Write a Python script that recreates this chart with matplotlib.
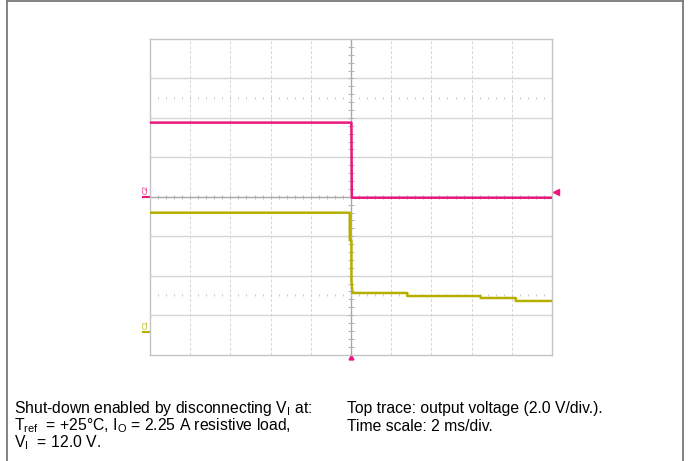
import numpy as np
import matplotlib.pyplot as plt
from matplotlib.lines import Line2D

plt.rcParams['font.family'] = ['Liberation Sans', 'DejaVu Sans']
plt.rcParams['mathtext.fontset'] = 'custom'
plt.rcParams['mathtext.rm'] = 'Liberation Sans'
plt.rcParams['mathtext.it'] = 'Liberation Sans'

# time axis in ms (2 ms/div, trigger at centre)
t_out = [-10.0, 0.02, 0.04, 10.0]
v_out = [3.76, 3.76, -0.05, -0.05]          # output voltage, 2 V/div

t_in = [-10.0, -0.06, -0.06, 0.02, 0.02, 0.07, 2.8, 2.8, 6.45, 6.45, 8.2, 8.2, 10.0]
v_in = [12.1, 12.1, 9.3, 9.3, 5.3, 3.96, 3.96, 3.65, 3.65, 3.45, 3.45, 3.15, 3.15]  # input, 4 V/div

out_scale = 2.0
in_scale = 4.0
in_offset = -3.43   # divisions, ground of input channel

pink = '#ea187d'
yellow = '#b5b000'
grid_c = '#d6d6d6'

fig = plt.figure(figsize=(6.9, 4.61), dpi=100)

# outer frame (open at the bottom)
for xs, ys in [([0.0105, 0.0105], [0.0, 0.997]), ([0.0105, 0.99], [0.997, 0.997]), ([0.99, 0.99], [0.997, 0.0])]:
    fig.add_artist(Line2D(xs, ys, color='#7a7a7a', lw=1.3))

ax = fig.add_axes([150 / 690, 1 - 354.5 / 461, 402 / 690, 315.5 / 461])
ax.set_xlim(-10, 10)
ax.set_ylim(-4, 4)
ax.set_xticks([])
ax.set_yticks([])
for s in ax.spines.values():
    s.set_color('#c4c4c4')
    s.set_linewidth(1.0)

# graticule
for y in range(-3, 4):
    if y != 0:
        ax.axhline(y, color=grid_c, lw=1.0, zorder=1)
for x in range(-8, 9, 2):
    if x != 0:
        ax.axvline(x, color=grid_c, lw=0.7, ls=(0, (3, 2)), zorder=1)
ax.axhline(0, color='#a8a8a8', lw=1.0, zorder=1)
ax.axvline(0, color='#a8a8a8', lw=1.0, zorder=1)
xt = np.arange(-10, 10.01, 0.4)
yt = np.arange(-4, 4.01, 0.2)
ax.plot(xt, np.zeros_like(xt), ls='none', marker='|', ms=3.5, color='#b4b4b4', mew=0.7, zorder=1)
ax.plot(np.zeros_like(yt), yt, ls='none', marker='_', ms=4.5, color='#b4b4b4', mew=0.7, zorder=1)
for y in (2.5, -2.5):
    ax.plot(xt, np.full_like(xt, y), ls='none', marker='|', ms=1.5, color='#c8c8c8', mew=0.7, zorder=1)

# traces
ax.plot(t_out, np.array(v_out) / out_scale, color=pink, lw=1.8, zorder=3)
ax.plot(t_in, np.array(v_in) / in_scale + in_offset, color=yellow, lw=1.8, zorder=3)

# channel markers
ax.plot([-10.35, -10.0], [0, 0], color=pink, lw=1.5, clip_on=False)
ax.text(-10.2, 0.08, 'C2', color=pink, fontsize=5, rotation=90, ha='center', va='bottom', clip_on=False)
ax.plot([-10.35, -10.0], [in_offset, in_offset], color=yellow, lw=1.5, clip_on=False)
ax.text(-10.2, in_offset + 0.08, 'C1', color=yellow, fontsize=5, rotation=90, ha='center', va='bottom', clip_on=False)
ax.plot([10.2], [0.13], marker='<', ms=4, color=pink, clip_on=False)
ax.plot([0.0], [-4.07], marker='^', ms=3.5, color=pink, clip_on=False)

# caption
fs = 11.3
fig.text(14 / 690, 1 - 408.5 / 461, r'Shut-down enabled by disconnecting V$_\mathrm{I}$ at:', fontsize=fs, va='center')
fig.text(14 / 690, 1 - 426 / 461, r'T$_\mathrm{ref}$  = +25°C, I$_\mathrm{O}$ = 2.25 A resistive load,', fontsize=fs, va='center')
fig.text(14 / 690, 1 - 443 / 461, r'V$_\mathrm{I}$  = 12.0 V.', fontsize=fs, va='center')
fig.text(347 / 690, 1 - 408.5 / 461, 'Top trace: output voltage (2.0 V/div.).', fontsize=fs, va='center')
fig.text(347 / 690, 1 - 426 / 461, 'Time scale: 2 ms/div.', fontsize=fs, va='center')

fig.savefig('out.png', dpi=100)
